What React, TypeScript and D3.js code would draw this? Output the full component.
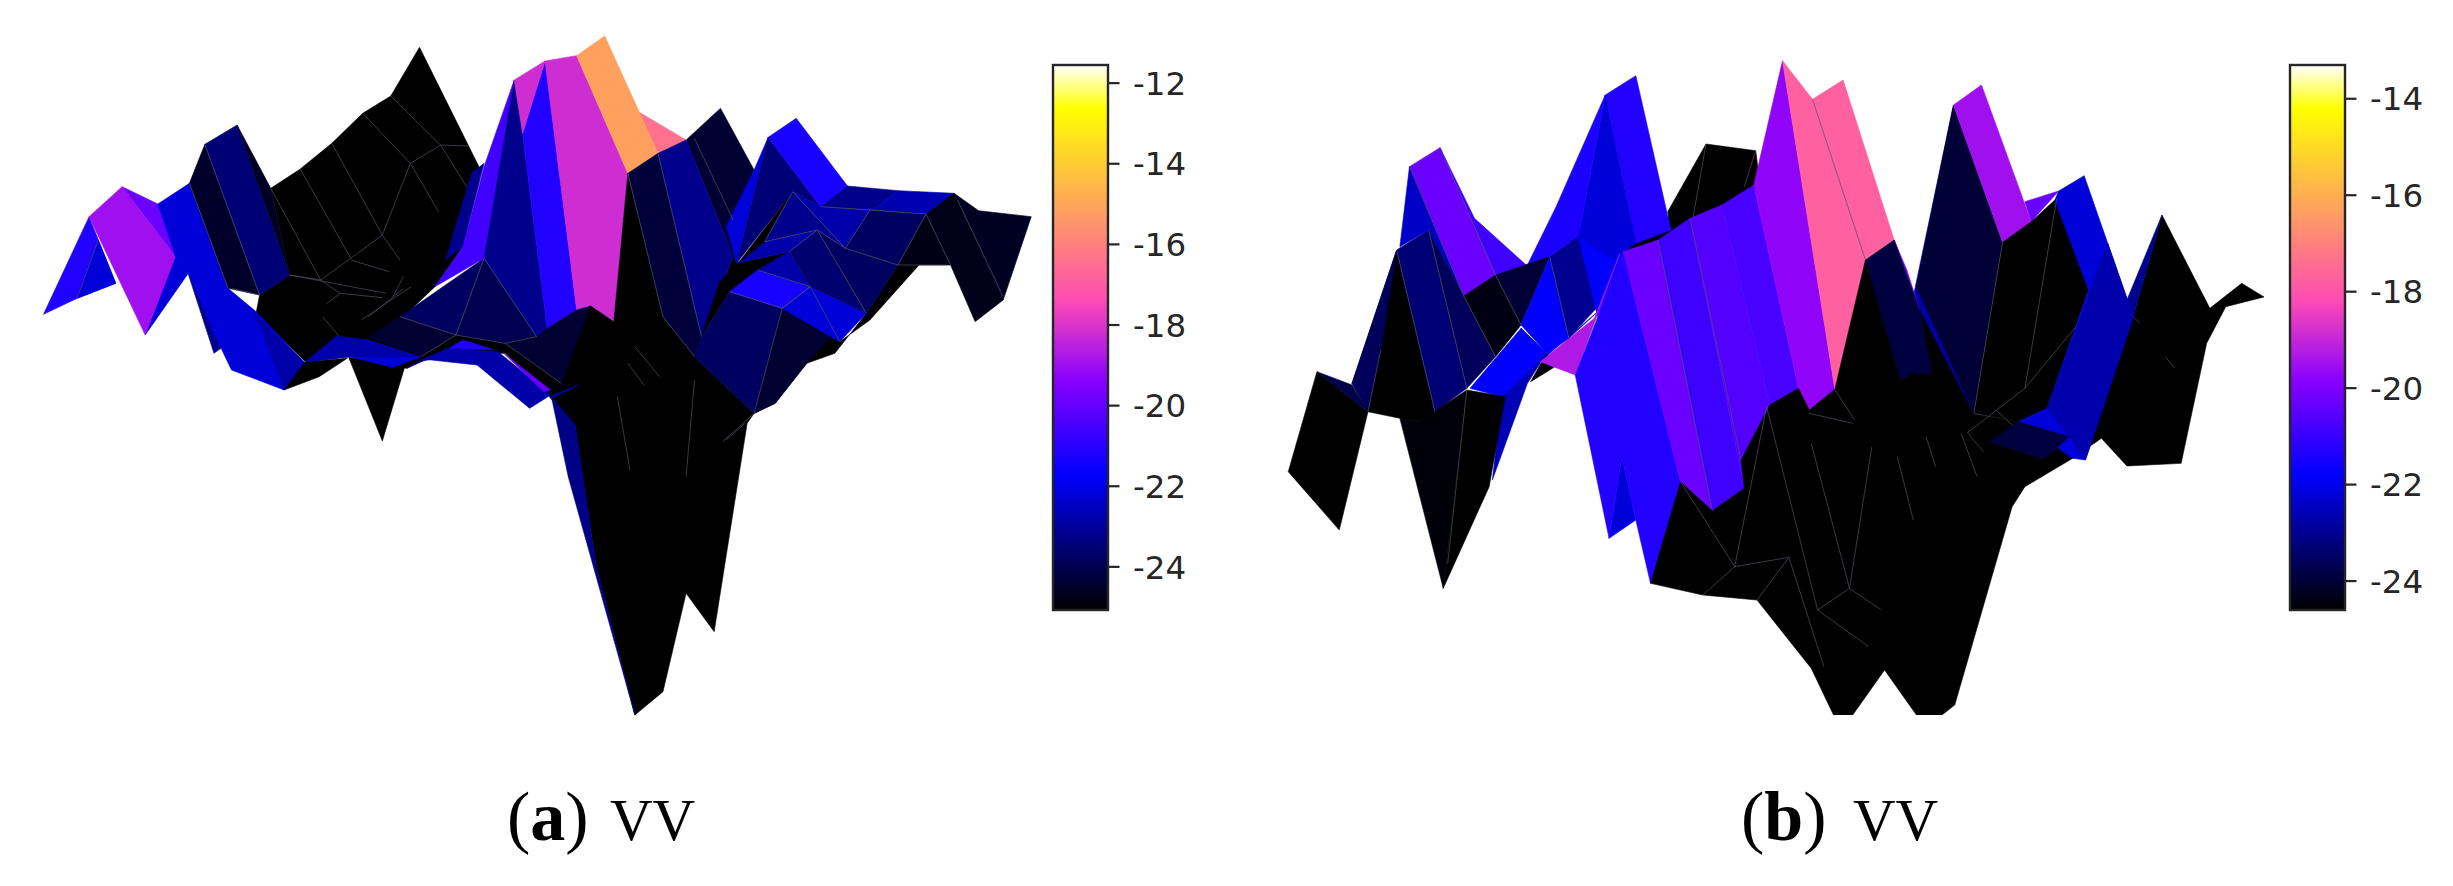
import React from "react";
import * as d3 from "d3";

// Facets of each projected surface: [level in dB, outline as x,y pairs].
type Facet = [number, number[]];

const facetsA: Facet[] = [
  [-25.07, [386,565,428,507,473,430,517,340,557,288,598,142,685,510,660,740,620,860,575,950,530,1010,480,1008,435,1085,365,940,370,885,413,825]],
  [-25.07, [435,1085,480,1000,660,1000,740,1000,800,1150,785,1190,720,1060,640,1060,600,1085,580,1105,560,1100,500,1070]],
  [-24.4, [978,420,1027,325,1075,510,1045,770]],
  [-25.07, [1035,680,1050,790,1000,1010,990,1070,1045,770]],
  [-16.4, [910,335,978,420,938,460]],
  [-21.15, [62,943,127,650,165,850,110,895]],
  [-22.2, [110,895,140,720,165,850]],
  [-19.9, [174,560,225,612,250,770]],
  [-22.2, [207,1005,250,760,275,800,265,830]],
  [-19, [127,650,174,560,250,770,207,1005]],
  [-23.2, [265,800,285,800,315,1045,305,1060]],
  [-22.2, [225,612,270,550,325,865,365,935,435,1090,405,1170,330,1110,305,1000,265,800,250,770]],
  [-22.8, [360,935,435,1090,405,1170,375,1000]],
  [-24.5, [270,550,292,433,370,885,325,865]],
  [-23.5, [292,433,338,375,413,825,370,885]],
  [-24.6, [338,375,386,565,413,825]],
  [-25.07, [405,1170,435,1085,495,1075,455,1130]],
  [-25.07, [497,1072,545,1323,577,1100]],
  [-21.15, [580,1105,640,1045,600,1085]],
  [-22.8, [435,1085,480,1008,525,1020,600,1070,560,1100,500,1070]],
  [-22.2, [500,1070,530,1075,600,1070,560,1102]],
  [-24.4, [525,1012,570,950,650,1005,600,1070]],
  [-23.8, [570,950,690,775,650,1005]],
  [-24, [690,775,765,1010,720,1030,650,1005]],
  [-23.2, [672,520,690,490,660,740,635,780]],
  [-20.6, [733,240,690,775,620,860,660,740,690,500]],
  [-23.2, [733,240,745,400,780,985,765,1010,690,775]],
  [-21.15, [777,183,822,930,780,985,745,400]],
  [-18.2, [733,240,777,183,745,400]],
  [-18.2, [777,183,822,167,895,520,875,965,842,918,822,930]],
  [-15.16, [822,167,862,108,938,460,895,520]],
  [-25.07, [895,520,945,950,990,1070,1075,1240,1065,1270,1018,1895,978,1780,945,2075,905,2145,850,1700,820,1280,785,1195,720,1030,765,1010,842,918,875,965]],
  [-23.3, [786,1190,810,1430,905,2145,850,1700,820,1275]],
  [-24.4, [720,1030,765,1010,780,985,822,930,842,918,800,1150]],
  [-22.8, [600,1080,640,1045,710,1055,785,1185,755,1225,680,1095,615,1080]],
  [-21.15, [640,1045,660,1020,705,1050]],
  [-20, [718,1060,785,1170,775,1175]],
  [-22.2, [785,1195,825,1155,790,1185]],
  [-24.3, [895,520,938,460,1000,1010,990,1070,945,950]],
  [-23.2, [938,460,978,420,1045,770,1000,1010]],
  [-25.07, [1000,1010,1040,875,1125,755,1050,790,1025,850]],
  [-25.07, [1075,1240,1115,925,1197,1025,1240,960,1310,795,1280,795,1235,940,1190,1060,1150,1090,1105,1210]],
  [-23.8, [1000,1010,990,1070,1075,1240,1115,925,1040,875]],
  [-24.4, [1115,925,1190,1000,1150,1090,1105,1210,1075,1240]],
  [-21.3, [1040,875,1080,810,1155,860,1115,925]],
  [-22.2, [1115,925,1155,860,1235,940,1197,1025]],
  [-22.8, [1080,810,1125,755,1155,860]],
  [-23.6, [1125,755,1165,690,1235,940,1155,860]],
  [-23.8, [1165,690,1205,745,1280,795,1235,940]],
  [-22.8, [1050,790,1090,725,1165,690,1125,755]],
  [-22.2, [1035,680,1075,510,1095,412,1050,790]],
  [-23.5, [1050,790,1095,412,1170,620,1130,575]],
  [-25.07, [1052,790,1130,575,1090,725]],
  [-23.2, [1090,725,1130,575,1205,745,1165,690]],
  [-22.8, [1130,575,1170,620,1240,630,1205,745]],
  [-21.3, [1095,412,1135,355,1208,558,1170,620]],
  [-23.2, [1170,620,1208,558,1280,572,1245,630]],
  [-22.7, [1245,630,1280,572,1360,580,1320,642]],
  [-23.8, [1205,745,1240,630,1320,642,1280,795]],
  [-24.8, [1280,795,1320,642,1355,795]],
  [-24.75, [1320,642,1360,580,1430,900,1390,965,1355,795]],
  [-24.6, [1360,580,1395,632,1470,650,1430,900]],
];

const edgesA: number[][] = [
  [557,288,628,435,668,438],[517,340,585,490,628,435],[473,430,545,705,585,490],[428,507,500,775,545,705],
  [386,565,457,840,500,775],[413,825,457,840,485,880,545,893],[413,825,550,880],[500,780,555,815],
  [585,490,625,635],[628,435,665,560],[545,705,570,780],[485,880,465,912],[586,860,515,960],[575,866,525,950],
  [575,830,560,890],[460,950,483,1008],[330,865,370,885],[292,433,370,885],[270,550,325,865],[110,895,140,720],
  [650,1005,720,1030,765,1010],[650,1005,600,1070],[720,1030,800,1150],[690,775,650,1005],[690,775,765,1010],
  [570,950,650,1005],[895,520,945,950,990,1070],[938,460,1000,1010],[905,1040,940,1130],[895,1090,918,1155],
  [880,1190,898,1410],[990,1140,978,1430],[990,415,1045,660],[1115,925,1075,1240],[1040,875,1115,925,1155,860,1080,810],
  [1090,725,1165,690,1125,755],[1165,690,1205,745,1280,795],[1130,575,1205,745],[1130,575,1090,725],
  [1170,620,1240,630,1320,642],[1240,630,1205,745],[1320,642,1280,795],[1280,795,1350,795],[1320,642,1355,795],
  [1365,600,1430,890],[1075,1240,1030,1325],[1062,1270,1035,1320],[1165,690,1235,940],[1115,925,1155,860,1197,1025],
];

const facetsB: Facet[] = [
  [-25, [715,342,793,362,800,470,690,560,660,600,655,545]],
  [-25, [500,600,660,560,800,470,640,680,575,760,520,760]],
  [-21.3, [557,195,605,137,660,600,605,640]],
  [-22.2, [557,195,605,640,570,690,515,620]],
  [-21.4, [435,705,480,530,557,195,515,620,470,680]],
  [-20.9, [298,353,352,565,433,705,385,735]],
  [-20.27, [250,410,298,353,385,735,335,798]],
  [-22.4, [235,650,250,410,335,798,280,600]],
  [-24.6, [105,1025,185,1145,140,1500,60,1325]],
  [-23.8, [105,1025,160,1065,185,1145]],
  [-24.6, [160,1060,230,660,290,1145,265,1175,235,1165,185,1145]],
  [-23.6, [160,1060,230,660,205,960,185,1145]],
  [-23.3, [230,660,280,600,340,1075,290,1145]],
  [-23.6, [280,600,335,798,385,980,340,1075]],
  [-24.4, [335,798,385,735,425,885,385,980]],
  [-24, [385,735,470,680,425,885]],
  [-21.8, [465,970,500,925,560,820,455,995]],
  [-21.8, [425,885,470,680,500,925,465,970]],
  [-23, [470,680,515,620,550,820,500,925]],
  [-21.8, [515,620,570,690,585,665,575,715,545,860]],
  [-25, [440,1055,465,970,482,1005,470,1020]],
  [-22.6, [395,1100,425,895,465,970,435,1060,380,1350]],
  [-21.8, [345,1075,425,895,465,970,395,1100]],
  [-24.5, [235,1165,265,1175,340,1080,303,1675]],
  [-25, [340,1080,400,1100,375,1370,303,1675]],
  [-19.3, [455,995,540,865,580,670,510,1035]],
  [-22.2, [583,1280,605,1470,563,1525]],
  [-21.3, [510,1035,585,665,675,1355,628,1660,605,1470,583,1280,563,1525]],
  [-20.27, [585,665,640,630,725,1442,675,1355]],
  [-20.9, [640,630,690,565,775,1375,725,1442]],
  [-20.6, [690,565,740,525,815,1125,770,1290,775,1375]],
  [-20.75, [740,525,790,465,860,1075,815,1125]],
  [-19.74, [790,465,835,92,917,1078,877,1140,860,1075]],
  [-17.73, [835,92,882,208,965,690,917,1078]],
  [-17.73, [882,208,930,150,1010,630,965,690]],
  [-25, [1430,555,1505,835,1555,760,1590,801,1530,830,1500,940,1460,1300,1375,1308,1335,1225,1290,1285,1215,1370,1195,1430,1105,2025,1085,2055,1045,2055,995,1920,945,2055,915,2055,880,1915,795,1710,710,1695,628,1660,675,1355,725,1442,775,1375,770,1290,815,1125,860,1075,877,1140,917,1078,965,690,1020,1050,1130,1150,1205,1175,1285,1220,1385,860]],
  [-25, [965,690,1050,800,1135,1150,1130,1170,1010,1070]],
  [-20.3, [1215,515,1268,483,1225,575]],
  [-22.8, [1040,800,1103,225,1135,1150]],
  [-24, [1045,770,1103,225,1180,637,1135,1150]],
  [-19.5, [1103,225,1147,165,1225,575,1180,637]],
  [-19.9, [1030,720,1010,630,1050,840]],
  [-23, [1375,810,1430,555,1385,860]],
  [-25, [1180,637,1225,575,1265,505,1315,780,1250,1135,1205,1175,1135,1150]],
  [-22.2, [1262,510,1268,483,1308,437,1385,860,1310,1290,1290,1285,1205,1175,1250,1135,1315,780]],
  [-22.7, [1345,640,1385,860,1310,1290,1285,1220,1250,1135]],
  [-23.9, [965,690,1010,630,1050,840,1070,1030,1040,1030,1020,1050]],
  [-23.9, [1160,1235,1205,1175,1285,1220,1245,1288]],
];

const edgesB: number[][] = [
  [250,410,335,798],[280,600,340,1075],[298,353,385,735],[230,660,290,1145],[335,798,385,980],[385,735,425,885],
  [470,680,500,925],[917,1078,948,1170],[877,1150,945,1180],[1180,637,1135,1150],[1265,505,1215,1075,1125,1208],
  [1295,890,1215,1075],[1170,1140,1195,1185],[1435,980,1450,1015],[1385,860,1395,880],[690,565,770,1290],
  [675,1355,760,1610],[760,1610,845,1582],[760,1610,710,1695],[845,1582,795,1710],[810,1130,760,1610],[810,1130,890,1740],
  [890,1740,940,1675,990,1740],[890,1740,970,1850],[880,1240,940,1675],[975,1250,940,1675],[845,1582,900,1910],
  [1015,1280,1040,1470],[1060,1220,1075,1310],[1115,1210,1140,1340],[1125,1208,1150,1265],[640,630,725,1442],
  [882,208,965,690],[715,342,695,560],[793,362,775,470],[205,960,185,1145],[340,1080,310,1600],
];

const ticksA = [-12, -14, -16, -18, -20, -22, -24];
const ticksB = [-14, -16, -18, -20, -22, -24];
const domainA: [number, number] = [-25.07, -11.55];
const domainB: [number, number] = [-24.6, -13.3];
const captionA = { tag: "a", text: "VV" };
const captionB = { tag: "b", text: "VV" };

// matplotlib's gnuplot2 colormap
const clamp = (n: number) => Math.max(0, Math.min(1, n));
function gnuplot2(t: number) {
  const r = clamp(t / 0.32 - 0.78125);
  const g = clamp(2 * t - 0.84);
  const b = clamp(t < 0.25 ? 4 * t : t < 0.92 ? -2 * t + 1.84 : t / 0.08 - 11.5);
  return d3.rgb(r * 255, g * 255, b * 255).formatHex();
}

const barTop = 65;
const barBottom = 610;
const ink = "#262626";

function Surface({ facets, edges, domain, x, y, id }: any) {
  const t = d3.scaleLinear().domain(domain).range([0, 1]);
  const path = (p: number[], close: boolean) => {
    const pts: [number, number][] = [];
    for (let i = 0; i < p.length; i += 2) pts.push([x(p[i]), y(p[i + 1])]);
    return d3.line()(pts) + (close ? "Z" : "");
  };
  return (
    <g clipPath={`url(#${id})`}>
      {facets.map(([v, p]: Facet, i: number) => {
        const c = gnuplot2(t(v));
        return <path key={i} d={path(p, true)} fill={c} stroke={c} strokeWidth={0.6} strokeLinejoin="round" />;
      })}
      {edges.map((p: number[], i: number) => (
        <path key={i} d={path(p, false)} fill="none" stroke="#505060" strokeWidth={0.7} />
      ))}
    </g>
  );
}

function ColorBar({ domain, ticks, x0, x1, id }: any) {
  const y = d3.scaleLinear().domain(domain).range([barBottom, barTop]);
  const stops = d3.range(0, 1.0001, 0.01);
  return (
    <g>
      <defs>
        <linearGradient id={id} x1="0" y1="1" x2="0" y2="0">
          {stops.map((s) => <stop key={s} offset={s} stopColor={gnuplot2(s)} />)}
        </linearGradient>
      </defs>
      <rect x={x0} y={barTop} width={x1 - x0} height={barBottom - barTop} fill={`url(#${id})`} stroke={ink} strokeWidth={2.4} />
      {ticks.map((k: number) => (
        <g key={k}>
          <line x1={x1} x2={x1 + 11.5} y1={y(k)} y2={y(k)} stroke={ink} strokeWidth={2.2} />
          <text x={x1 + 25} y={y(k)} dy="0.36em" fontFamily="DejaVu Sans" fontSize={32.5} fill={ink}>{k}</text>
        </g>
      ))}
    </g>
  );
}

function Caption({ x, tag, text, vx }: any) {
  return (
    <g fontFamily="Liberation Serif" fill="#000">
      <text x={x} y={840} fontWeight="bold" fontSize={70}>
        <tspan fontWeight="normal">(</tspan>{tag}<tspan fontWeight="normal">)</tspan>
      </text>
      <text x={vx} y={840} fontSize={59}>{text}</text>
    </g>
  );
}

export default function App() {
  const xA = d3.scaleLinear().domain([0, 1568]).range([0, 1100]);
  const yA = d3.scaleLinear().domain([0, 1200]).range([0, 400]);
  const xB = d3.scaleLinear().domain([0, 1568]).range([1250, 2250]);
  const yB = d3.scaleLinear().domain([0, 1200]).range([30, 430]);
  return (
    <svg width={2453} height={886} viewBox="0 0 2453 886" style={{ position: "absolute", left: 0, top: 0, background: "#fff" }}>
      <defs>
        <clipPath id="clipA"><rect x={0} y={0} width={1045} height={740} /></clipPath>
        <clipPath id="clipB"><rect x={1260} y={0} width={1025} height={715} /></clipPath>
      </defs>
      <Surface id="clipA" facets={facetsA} edges={edgesA} domain={domainA} x={xA} y={yA} />
      <ColorBar id="gradA" domain={domainA} ticks={ticksA} x0={1053} x1={1108} />
      <Caption x={507} vx={610} tag={captionA.tag} text={captionA.text} />
      <Surface id="clipB" facets={facetsB} edges={edgesB} domain={domainB} x={xB} y={yB} />
      <ColorBar id="gradB" domain={domainB} ticks={ticksB} x0={2290} x1={2345} />
      <Caption x={1741} vx={1853} tag={captionB.tag} text={captionB.text} />
    </svg>
  );
}
